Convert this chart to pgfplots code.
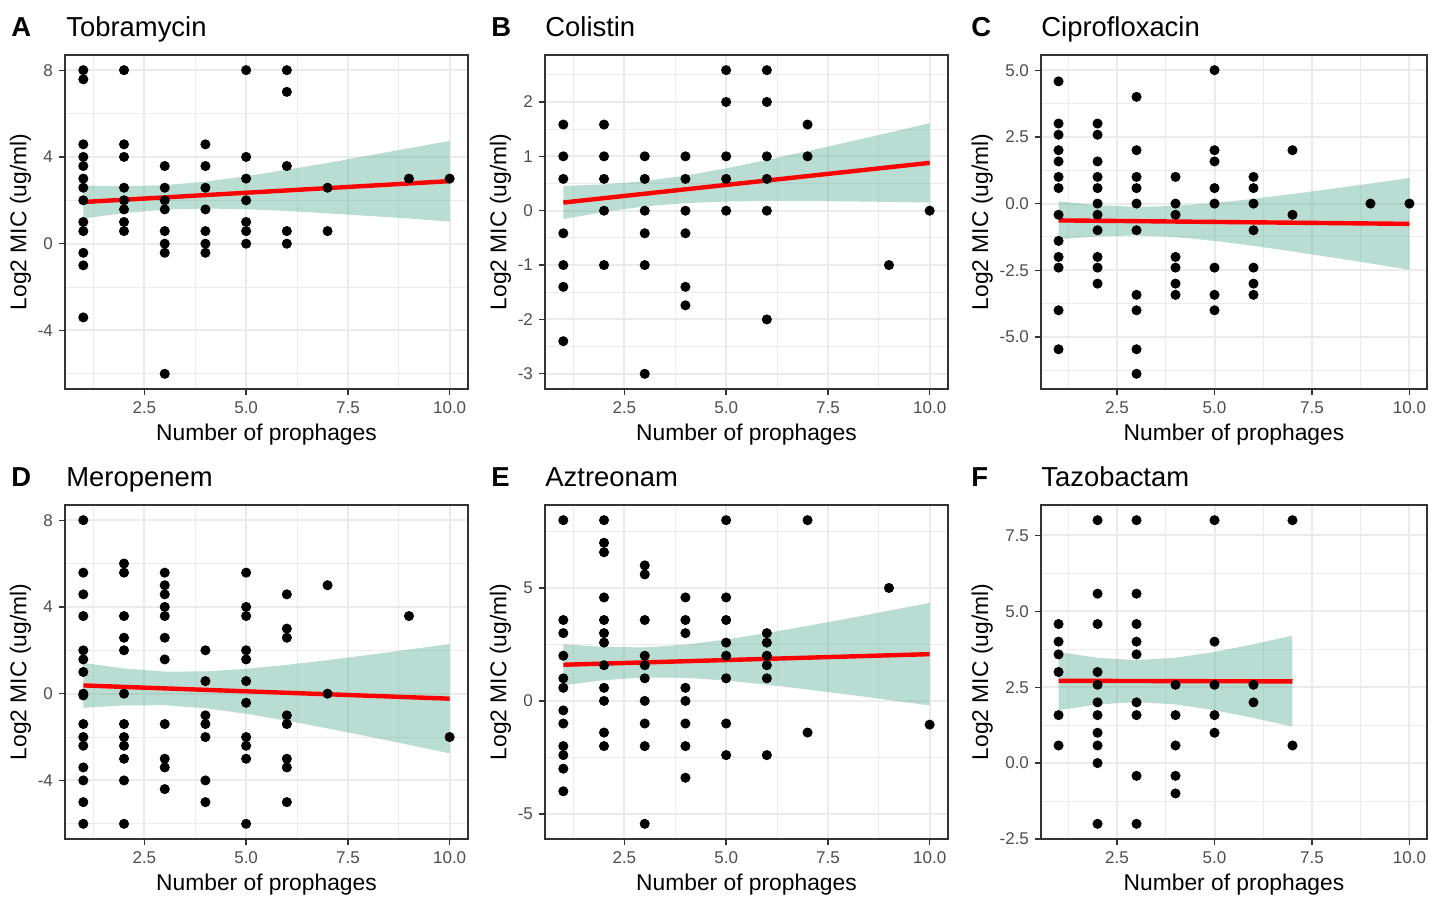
\documentclass[border=0pt]{standalone}
\usepackage{pgfplots}
\pgfplotsset{compat=1.18}
\usepackage{fontspec}
\setmainfont{Liberation Sans}
\definecolor{gridc}{HTML}{EBEBEB}
\definecolor{gray20}{HTML}{333333}
\definecolor{gray30}{HTML}{4D4D4D}
\definecolor{ribbonc}{RGB}{80,170,142}
\pgfplotsset{
  panel/.style={
    scale only axis, anchor=south west,
    xmin=0.55, xmax=10.45,
    xtick={2.5,5,7.5,10}, xticklabels={2.5,5.0,7.5,10.0},
    minor xtick={1.25,3.75,6.25,8.75},
    grid=both,
    major grid style={color=gridc, line width=1pt},
    minor grid style={color=gridc, line width=0.5pt},
    axis line style={color=gray20, line width=0.65pt},
    tick align=outside, xtick pos=bottom, ytick pos=left,
    major tick length=3pt, minor tick length=0pt,
    tick style={color=gray20, line width=0.65pt},
    ticklabel style={font=\fontsize{8.5}{10}\selectfont, color=gray30},
    xticklabel style={yshift=0pt},
    yticklabel style={xshift=0.5pt},
    label style={font=\fontsize{11.4}{13}\selectfont, color=black},
    xlabel={Number of prophages}, ylabel={Log2 MIC (ug/ml)},
    xlabel style={yshift=2pt},
    ylabel style={yshift=-3.5pt},
  },
  pts/.style={only marks, mark=*, mark size=2.3pt, black},
  rib/.style={draw=none, fill=ribbonc, fill opacity=0.4},
  fit/.style={color=red, line width=2.2pt},
}
\begin{document}
\begin{tikzpicture}
\useasboundingbox (0,0) rectangle (717.5pt,449.5pt);
% ---------- A Tobramycin
\begin{axis}[panel, at={(32.5pt,255pt)}, width=201.5pt, height=167pt,
  ymin=-6.7, ymax=8.7, ytick={-4,0,4,8}, yticklabels={-4,0,4,8},
  minor ytick={-6,-2,2,6}]
\addplot[pts] table {
x y
1 8
1 7.58
1 4.58
1 4
1 3.58
1 3
1 2.58
1 2
1 1
1 0.58
1 -0.42
1 -1
1 -3.4
2 8
2 4.58
2 4
2 2.58
2 2
2 1.58
2 1
2 0.58
3 3.58
3 2.58
3 2
3 1.58
3 0.58
3 0
3 -0.42
3 -6
4 4.58
4 3.58
4 2.58
4 1.58
4 0.58
4 0
4 -0.42
5 8
5 4
5 3
5 2
5 1
5 0.58
5 0
6 8
6 7
6 3.58
6 0.58
6 0
7 2.58
7 0.58
9 3
10 3
};
\addplot[rib] coordinates {(1,2.68)(2,2.65)(3,2.70)(4,2.86)(5,3.11)(6,3.41)(7,3.72)(8,4.06)(9,4.40)(10,4.74)
 (10,1.02)(9,1.16)(8,1.28)(7,1.40)(6,1.51)(5,1.59)(4,1.62)(3,1.57)(2,1.41)(1,1.16)} -- cycle;
\addplot[fit] coordinates {(1,1.92)(10,2.883)};
\end{axis}
% ---------- B Colistin
\begin{axis}[panel, at={(272.5pt,255pt)}, width=201.5pt, height=167pt,
  ymin=-3.279, ymax=2.864, ytick={-3,-2,-1,0,1,2}, yticklabels={-3,-2,-1,0,1,2},
  minor ytick={-2.5,-1.5,-0.5,0.5,1.5,2.5}]
\addplot[pts] table {
x y
1 1.585
1 1
1 0.585
1 -0.415
1 -1
1 -1.4
1 -2.4
2 1.585
2 1
2 0.585
2 0
2 -1
3 1
3 0.585
3 0
3 -0.415
3 -1
3 -3
4 1
4 0.585
4 0
4 -0.415
4 -1.4
4 -1.74
5 2.585
5 2
5 1
5 0.585
5 0
6 2.585
6 2
6 1
6 0.585
6 0
6 -2
7 1.585
7 1
9 -1
10 0
};
\addplot[rib] coordinates {(1,0.455)(2,0.484)(3,0.544)(4,0.646)(5,0.779)(6,0.933)(7,1.096)(8,1.264)(9,1.436)(10,1.61)
 (10,0.15)(9,0.162)(8,0.172)(7,0.178)(6,0.179)(5,0.169)(4,0.140)(3,0.080)(2,-0.022)(1,-0.155)} -- cycle;
\addplot[fit] coordinates {(1,0.15)(10,0.88)};
\end{axis}
% ---------- C Ciprofloxacin
\begin{axis}[panel, at={(520.5pt,255pt)}, width=193pt, height=167pt,
  ymin=-6.949, ymax=5.569, ytick={-5,-2.5,0,2.5,5}, yticklabels={-5.0,-2.5,0.0,2.5,5.0},
  minor ytick={-6.25,-3.75,-1.25,1.25,3.75}]
\addplot[pts] table {
x y
1 4.58
1 3
1 2.58
1 2
1 1.58
1 1
1 0.58
1 -0.42
1 -1.4
1 -2
1 -2.4
1 -4
1 -5.46
2 3
2 2.58
2 1.58
2 1
2 0.58
2 0
2 -0.42
2 -1
2 -2
2 -2.4
2 -3
3 4
3 2
3 1
3 0.58
3 0
3 -1
3 -3.42
3 -4
3 -5.46
3 -6.38
4 1
4 0
4 -0.42
4 -2
4 -2.4
4 -3
4 -3.42
5 5
5 2
5 1.58
5 0.58
5 0
5 -2.4
5 -3.42
5 -4
6 1
6 0.58
6 0
6 -1
6 -2.4
6 -3
6 -3.42
7 2
7 -0.42
9 0
10 0
};
\addplot[rib] coordinates {(1,0.080)(2,-0.060)(3,-0.124)(4,-0.089)(5,0.022)(6,0.179)(7,0.359)(8,0.553)(9,0.753)(10,0.96)
 (10,-2.48)(9,-2.245)(8,-2.015)(7,-1.793)(6,-1.583)(5,-1.398)(4,-1.257)(3,-1.194)(2,-1.228)(1,-1.340)} -- cycle;
\addplot[fit] coordinates {(1,-0.63)(10,-0.76)};
\end{axis}
% ---------- D Meropenem
\begin{axis}[panel, at={(32.5pt,30pt)}, width=201.5pt, height=167pt,
  ymin=-6.7, ymax=8.7, ytick={-4,0,4,8}, yticklabels={-4,0,4,8},
  minor ytick={-6,-2,2,6}]
\addplot[pts] table {
x y
1 8
1 5.58
1 4.58
1 3.58
1 2
1 1.58
1 1
1 0
1 -0.08
1 -1.4
1 -2
1 -2.4
1 -3.4
1 -4
1 -5
1 -6
2 6
2 5.58
2 3.58
2 2.58
2 2
2 0
2 -1.4
2 -2
2 -2.4
2 -3
2 -4
2 -6
3 5.58
3 5
3 4.58
3 4
3 3.58
3 2.58
3 1.58
3 -1.4
3 -3
3 -3.4
3 -4.4
4 2
4 0.58
4 -1
4 -1.4
4 -2
4 -4
4 -5
5 5.58
5 4
5 3.58
5 2
5 1.58
5 0.58
5 -0.42
5 -2
5 -2.4
5 -3
5 -6
6 4.58
6 3
6 2.58
6 -1
6 -1.4
6 -3
6 -3.4
6 -5
7 5
7 0
9 3.58
10 -2
};
\addplot[rib] coordinates {(1,1.415)(2,1.160)(3,1.020)(4,1.025)(5,1.144)(6,1.329)(7,1.547)(8,1.785)(9,2.035)(10,2.29)
 (10,-2.75)(9,-2.359)(8,-1.975)(7,-1.601)(6,-1.247)(5,-0.926)(4,-0.671)(3,-0.532)(2,-0.536)(1,-0.655)} -- cycle;
\addplot[fit] coordinates {(1,0.38)(10,-0.23)};
\end{axis}
% ---------- E Aztreonam
\begin{axis}[panel, at={(272.5pt,30pt)}, width=201.5pt, height=167pt,
  ymin=-6.112, ymax=8.672, ytick={-5,0,5}, yticklabels={-5,0,5},
  minor ytick={-2.5,2.5,7.5}]
\addplot[pts] table {
x y
1 8
1 3.58
1 3
1 2
1 1
1 0.58
1 -0.42
1 -1
1 -2
1 -2.4
1 -3
1 -4
2 8
2 7
2 6.58
2 4.58
2 3.58
2 3
2 2.58
2 1.58
2 0.58
2 0
2 -1.4
2 -2
3 6
3 5.6
3 3.58
3 2
3 1.58
3 1
3 0
3 -1
3 -2
3 -5.44
4 4.58
4 3.58
4 3
4 0.58
4 0
4 -1
4 -2
4 -3.4
5 8
5 4.58
5 3.58
5 2.58
5 2
5 1
5 -1
5 -2.4
6 3
6 2.58
6 2
6 1.58
6 1
6 -2.4
7 8
7 -1.4
9 5
10 -1.05
};
\addplot[rib] coordinates {(1,2.510)(2,2.387)(3,2.370)(4,2.492)(5,2.719)(6,3.005)(7,3.321)(8,3.652)(9,3.994)(10,4.34)
 (10,-0.20)(9,0.042)(8,0.278)(7,0.505)(6,0.717)(5,0.899)(4,1.022)(3,1.038)(2,0.917)(1,0.690)} -- cycle;
\addplot[fit] coordinates {(1,1.60)(10,2.07)};
\end{axis}
% ---------- F Tazobactam
\begin{axis}[panel, at={(520.5pt,30pt)}, width=193pt, height=167pt,
  ymin=-2.5, ymax=8.5, ytick={-2.5,0,2.5,5,7.5}, yticklabels={-2.5,0.0,2.5,5.0,7.5},
  minor ytick={-1.25,1.25,3.75,6.25}]
\addplot[pts] table {
x y
1 4.58
1 4
1 3.58
1 3
1 1.58
1 0.58
2 8
2 5.58
2 4.58
2 3
2 2.58
2 2
2 1.58
2 1
2 0.58
2 0
2 -2
3 8
3 5.58
3 4.58
3 4
3 3.58
3 2
3 1.58
3 -0.42
3 -2
4 2.58
4 1.58
4 0.58
4 -0.42
4 -1
5 8
5 4
5 2.58
5 1.58
5 1
6 2.58
6 2
7 8
7 0.58
};
\addplot[rib] coordinates {(1,3.66)(2,3.468)(3,3.392)(4,3.468)(5,3.66)(6,3.914)(7,4.20)
 (7,1.20)(6,1.486)(5,1.74)(4,1.932)(3,2.008)(2,1.932)(1,1.74)} -- cycle;
\addplot[fit] coordinates {(1,2.71)(7,2.69)};
\end{axis}
% ---------- titles
\begin{scope}[every node/.style={anchor=base west, inner sep=0pt, font=\fontsize{13.7}{16}\selectfont}]
\node at (5.5pt,431pt) {\textbf{A}};
\node at (33pt,431pt) {Tobramycin};
\node at (245.5pt,431pt) {\textbf{B}};
\node at (272.5pt,431pt) {Colistin};
\node at (485.5pt,431pt) {\textbf{C}};
\node at (520.5pt,431pt) {Ciprofloxacin};
\node at (5.5pt,206pt) {\textbf{D}};
\node at (33pt,206pt) {Meropenem};
\node at (245.5pt,206pt) {\textbf{E}};
\node at (272.5pt,206pt) {Aztreonam};
\node at (485.5pt,206pt) {\textbf{F}};
\node at (520.5pt,206pt) {Tazobactam};
\end{scope}
\end{tikzpicture}
\end{document}
